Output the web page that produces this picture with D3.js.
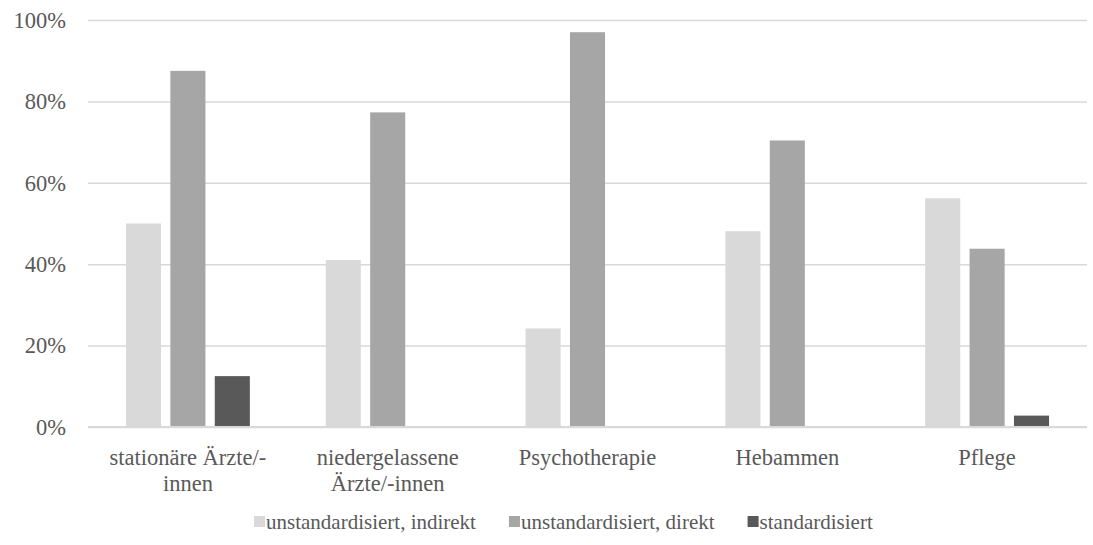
<!DOCTYPE html>
<html>
<head>
<meta charset="utf-8">
<script src="https://cdn.jsdelivr.net/npm/d3@7"></script>
<style>
  html, body { margin: 0; padding: 0; background: #fff; }
  svg { display: block; }
</style>
</head>
<body>
<svg id="chart" width="1093" height="545"></svg>
<script>
// Categories (line breaks as shown under the axis)
const categories = [
  ["stationäre Ärzte/-", "innen"],
  ["niedergelassene", "Ärzte/-innen"],
  ["Psychotherapie"],
  ["Hebammen"],
  ["Pflege"]
];
const seriesNames = ["unstandardisiert, indirekt", "unstandardisiert, direkt", "standardisiert"];
const indirekt = [50.0, 41.0, 24.2, 48.1, 56.2];
const direkt = [87.5, 77.3, 97.0, 70.4, 43.8];
const standardisiert = [12.5, 0, 0, 0, 2.8];
const yTicks = [0, 20, 40, 60, 80, 100];

const seriesValues = [indirekt, direkt, standardisiert];
const colors = ["#d9d9d9", "#a6a6a6", "#595959"];
const FONT = "'Liberation Serif', 'DejaVu Serif', serif";
const TXT = "#595959";
const AXIS_SIZE = 22.5;
const LEGEND_SIZE = 21;

const svg = d3.select("#chart");
const margin = { left: 88, right: 6, top: 20, bottom: 118 };
const W = 1093, H = 545;
const plotW = W - margin.left - margin.right;
const plotH = H - margin.top - margin.bottom;

const g = svg.append("g").attr("transform", `translate(${margin.left},${margin.top})`);

const x0 = d3.scaleBand().domain(d3.range(categories.length)).range([0, plotW]).padding(0);
const groupPad = 0.19 * x0.bandwidth();
const x1 = d3.scaleBand().domain(d3.range(seriesNames.length))
  .range([groupPad, x0.bandwidth() - groupPad]).paddingInner(0.21).paddingOuter(0);
const y = d3.scaleLinear().domain([0, 100]).range([plotH, 0]);

// Gridlines with percent labels
const yAxis = d3.axisLeft(y).tickValues(yTicks).tickSize(-plotW).tickPadding(22)
  .tickFormat(d => d + "%");
const ya = g.append("g").call(yAxis).attr("font-family", FONT).attr("font-size", AXIS_SIZE);
ya.select(".domain").remove();
ya.selectAll(".tick line").attr("stroke", "#d9d9d9").attr("stroke-width", 1.5);
ya.selectAll(".tick text").attr("fill", TXT);

// Bars
const groups = g.selectAll(".grp").data(categories).join("g")
  .attr("transform", (d, i) => `translate(${x0(i)},0)`);
groups.selectAll("rect")
  .data((d, i) => seriesValues.map((s, k) => ({ k, v: s[i] })))
  .join("rect")
  .attr("x", d => x1(d.k))
  .attr("width", x1.bandwidth())
  .attr("y", d => y(d.v))
  .attr("height", d => y(0) - y(d.v))
  .attr("fill", d => colors[d.k]);

// Category axis baseline
g.append("line").attr("x1", 0).attr("x2", plotW).attr("y1", y(0)).attr("y2", y(0))
  .attr("stroke", "#d9d9d9").attr("stroke-width", 2);

// Category labels
const lab = g.append("g").attr("font-family", FONT).attr("font-size", AXIS_SIZE).attr("fill", TXT);
categories.forEach((lines, i) => {
  const cx = x0(i) + x0.bandwidth() / 2;
  const t = lab.append("text")
    .attr("x", cx)
    .attr("y", plotH + 38)
    .attr("text-anchor", "middle");
  lines.forEach((ln, j) => {
    t.append("tspan").attr("x", cx).attr("dy", j === 0 ? 0 : 26).text(ln);
  });
});

// Legend: swatch + label, entries separated by a fixed gap
const leg = svg.append("g").attr("transform", "translate(254,529)")
  .attr("font-family", FONT).attr("font-size", LEGEND_SIZE).attr("fill", TXT);
let lx = 0;
seriesNames.forEach((name, k) => {
  leg.append("rect").attr("x", lx).attr("y", -13).attr("width", 11).attr("height", 11).attr("fill", colors[k]);
  const t = leg.append("text").attr("x", lx + 12).attr("y", 0).text(name);
  lx += 12 + t.node().getComputedTextLength() + 33;
});
</script>
</body>
</html>
